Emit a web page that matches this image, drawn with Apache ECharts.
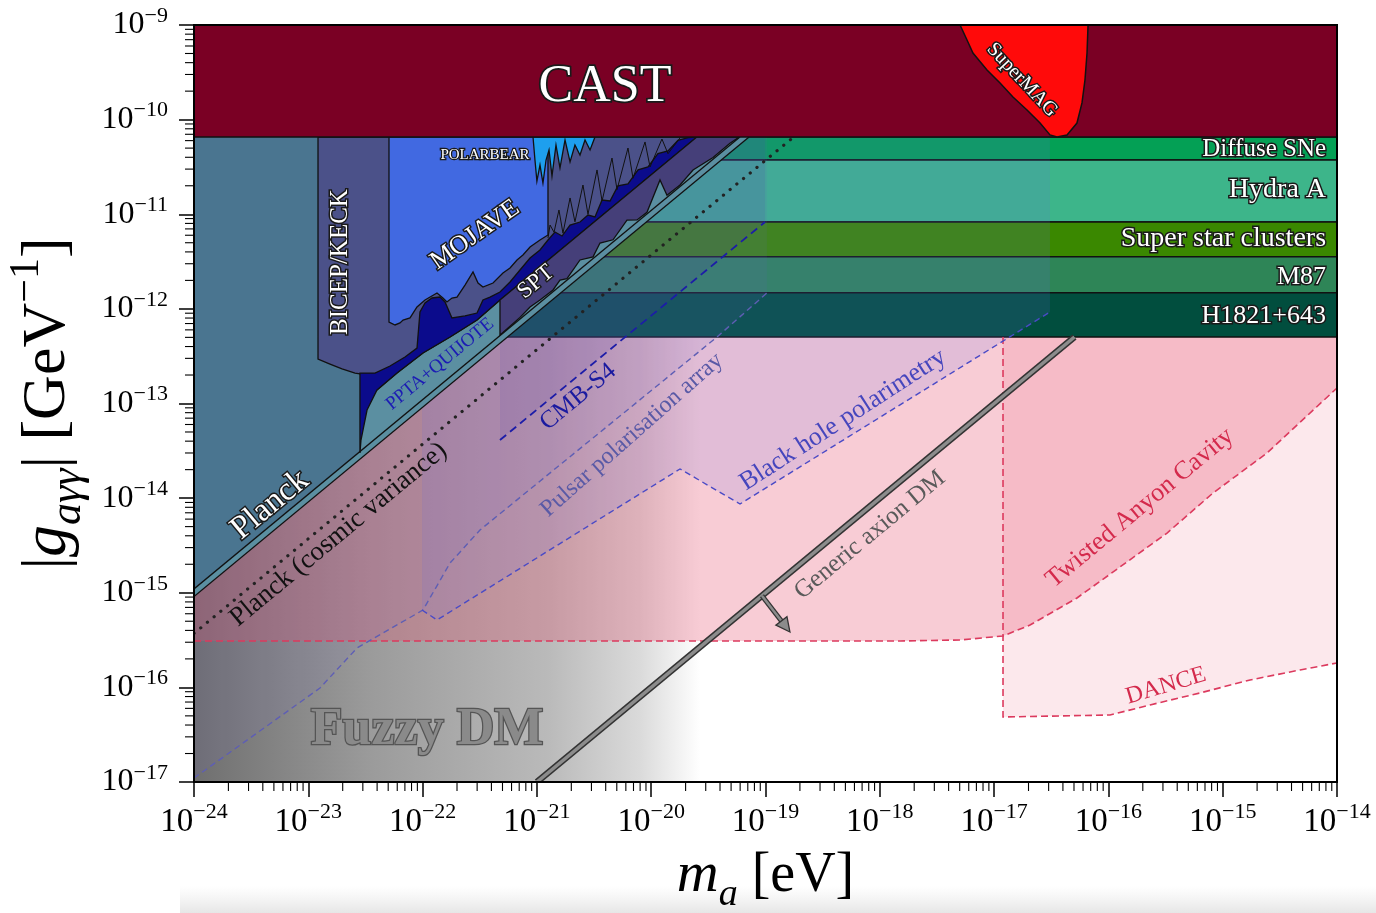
<!DOCTYPE html>
<html>
<head>
<meta charset="utf-8">
<script src="https://cdn.jsdelivr.net/npm/echarts@6.0.0/dist/echarts.min.js"></script>
<style>html,body{margin:0;padding:0;background:#fff;}#chart{width:1376px;height:913px;}</style>
</head>
<body>
<div id="chart"></div>
<script>
// All values are log10: x = log10(m_a / eV), y = log10(|g_agg| * GeV)
const xTickExponents = [-24,-23,-22,-21,-20,-19,-18,-17,-16,-15,-14];
const yTickExponents = [-17,-16,-15,-14,-13,-12,-11,-10,-9];

const castRegion = [[-24,-9],[-14,-9],[-14,-10.184],[-24,-10.184]];
const superMAGRegion = [[-17.298,-9],[-17.237,-9.159],[-17.185,-9.296],[-17.062,-9.476],[-16.948,-9.613],[-16.835,-9.761],[-16.712,-9.898],[-16.598,-10.036],[-16.511,-10.162],[-16.450,-10.184],[-16.362,-10.162],[-16.275,-10.036],[-16.231,-9.824],[-16.205,-9.581],[-16.187,-9.296],[-16.178,-9]];

const bandEdges = [-10.184,-10.427,-11.082,-11.449,-11.829,-12.297];
const bandNames = ['Diffuse SNe','Hydra A','Super star clusters','M87','H1821+643'];

const planckRegion = [[-24,-9],[-24,-14.96],[-22.548,-13.508],[-22.548,-9]];
const quijoteRegion = [[-24,-9],[-24,-15.04],[-17.96,-9]];
const planckEdge = [[-24,-14.96],[-19.224,-10.184]];
const quijoteEdge = [[-24,-15.04],[-19.144,-10.184]];
const planckCosmicVariance = [[-24,-15.43],[-18.754,-10.184]];

const bicepRegion = [[-22.915,-10.184],[-22.915,-12.530],[-22.810,-12.583],[-22.705,-12.635],[-22.591,-12.678],[-22.548,-12.688],[-22.399,-12.857],[-22.224,-12.678],[-21.997,-12.466],[-21.760,-12.297],[-21.524,-12.118],[-21.323,-11.906],[-19.601,-10.184]];

const pptaRegion = [[-22.548,-12.678],[-22.416,-12.678],[-22.285,-12.604],[-22.154,-12.509],[-22.049,-12.414],[-22.023,-12.033],[-21.979,-11.938],[-21.918,-11.885],[-21.848,-11.875],[-21.804,-11.927],[-21.743,-12.096],[-21.629,-12.075],[-21.524,-12.044],[-21.472,-11.906],[-21.410,-11.875],[-21.323,-11.822],[-21.235,-11.716],[-21.148,-11.589],[-21.060,-11.462],[-20.973,-11.378],[-20.903,-11.272],[-20.842,-11.188],[-20.780,-11.230],[-20.710,-11.114],[-20.623,-11.082],[-20.553,-11.008],[-20.492,-11.029],[-20.430,-10.85],[-20.360,-10.86],[-20.291,-10.70],[-20.203,-10.68],[-20.115,-10.53],[-20.028,-10.50],[-19.941,-10.36],[-19.853,-10.33],[-19.766,-10.22],[-19.678,-10.19],[-19.62,-10.184],
  [-19.601,-10.184],[-21.323,-11.906],[-21.524,-12.118],[-21.760,-12.297],[-21.997,-12.466],[-22.224,-12.678],[-22.399,-12.857],[-22.486,-13.069],[-22.521,-13.280],[-22.539,-13.386],[-22.548,-13.523]];

const mojaveRegion = [[-22.294,-10.184],[-22.294,-12.139],[-22.241,-12.170],[-22.198,-12.149],[-22.171,-12.118],[-22.110,-12.096],[-22.049,-11.980],[-21.979,-11.906],[-21.874,-11.832],[-21.822,-11.885],[-21.787,-11.927],[-21.743,-11.885],[-21.699,-11.875],[-21.629,-11.748],[-21.559,-11.610],[-21.515,-11.727],[-21.472,-11.769],[-21.384,-11.727],[-21.297,-11.621],[-21.235,-11.568],[-21.174,-11.483],[-21.122,-11.431],[-21.060,-11.346],[-20.973,-11.272],[-20.903,-11.219],[-20.903,-10.184]];

const polarbearRegion = [[-21.034,-10.184],[-21.017,-10.427],[-21.0,-10.649],[-20.973,-10.480],[-20.947,-10.670],[-20.920,-10.427],[-20.894,-10.321],[-20.868,-10.596],[-20.833,-10.268],[-20.798,-10.511],[-20.754,-10.215],[-20.710,-10.448],[-20.667,-10.268],[-20.623,-10.374],[-20.579,-10.215],[-20.535,-10.321],[-20.492,-10.184]];

const sptRegion = [[-21.323,-11.906],[-21.323,-12.276],[-21.297,-12.250],[-21.148,-12.09],[-21.060,-11.980],[-20.973,-11.906],[-20.859,-11.80],[-20.798,-11.695],[-20.737,-11.68],[-20.623,-11.483],[-20.509,-11.45],[-20.448,-11.304],[-20.334,-11.27],[-20.212,-11.061],[-20.124,-11.06],[-20.037,-10.98],[-19.923,-10.638],[-19.862,-10.80],[-19.748,-10.69],[-19.634,-10.532],[-19.459,-10.40],[-19.311,-10.25],[-19.23,-10.184],[-19.601,-10.184]];

const actJag = [[-20.903,-11.25],[-20.885,-11.114],[-20.850,-11.19],[-20.807,-10.955],[-20.772,-11.20],[-20.710,-10.828],[-20.667,-11.08],[-20.597,-10.691],[-20.553,-11.00],[-20.474,-10.532],[-20.430,-10.86],[-20.343,-10.406],[-20.299,-10.74],[-20.203,-10.300],[-20.159,-10.62],[-20.054,-10.236],[-20.010,-10.50],[-19.906,-10.205],[-19.853,-10.36],[-19.748,-10.194]];

const pulsarBoundary = [[-24,-16.958],[-22.898,-16.007],[-22.574,-15.584],[-21.996,-15.182],[-21.760,-14.686],[-21.498,-14.337],[-19.424,-12.297],[-18.987,-11.832]];
const blackHoleBoundary = [[-22.005,-15.182],[-21.874,-15.288],[-19.748,-13.692],[-19.223,-14.062],[-16.511,-12.033]];
const cmbS4Boundary = [[-21.323,-13.386],[-19.004,-11.082]];

const twistedAnyonBoundary = [[-24,-15.510],[-17.823,-15.510],[-17.298,-15.499],[-16.922,-15.457],[-16.686,-15.341],[-16.275,-15.055],[-15.899,-14.728],[-15.487,-14.369],[-15.085,-13.946],[-14.612,-13.523],[-14,-12.836]];
const danceBoundary = [[-16.922,-12.297],[-16.922,-16.313],[-15.986,-16.292],[-15.636,-16.186],[-15.199,-16.059],[-14.761,-15.922],[-14.324,-15.816],[-14,-15.742]];

const fuzzyDMRegion = [[-24,-17],[-19.57,-17],[-19.57,-9],[-24,-9]];
const genericAxionDM = [[-21,-17],[-16.297,-12.297]];
const genericArrow = [[-19.031,-15.031],[-18.786,-15.415]];

// ---- label annotations (anchor in data coords, direction in data coords) ----
const labels = [
  {t:'CAST', p:[-20.404,-9.655], size:52, fill:'#fff', outline:'#1a1a1a', ow:3.5},
  {t:'SuperMAG', p:[-16.756,-9.581], d:[1,-1.29], size:20, fill:'#fff', outline:'#1a1a1a'},
  {t:'Diffuse SNe', p:[-14.096,-10.310], size:25, align:'right', fill:'#fff', outline:'#1a1a1a'},
  {t:'Hydra A', p:[-14.096,-10.744], size:28, align:'right', fill:'#fff', outline:'#1a1a1a'},
  {t:'Super star clusters', p:[-14.096,-11.262], size:28, align:'right', fill:'#fff', outline:'#1a1a1a'},
  {t:'M87', p:[-14.096,-11.663], size:26, align:'right', fill:'#fff', outline:'#1a1a1a'},
  {t:'H1821+643', p:[-14.096,-12.075], size:26, align:'right', fill:'#fff', outline:'#1a1a1a'},
  {t:'POLARBEAR', p:[-21.454,-10.374], size:15, fill:'#fff', outline:'#1a1a1a', ow:2.5},
  {t:'BICEP/KECK', p:[-22.723,-11.505], d:[0,1], size:25, fill:'#fff', outline:'#1a1a1a'},
  {t:'MOJAVE', p:[-21.542,-11.219], d:[1,0.85], size:26, fill:'#fff', outline:'#1a1a1a'},
  {t:'SPT', p:[-21.008,-11.716], d:[1,1], size:23, fill:'#fff', outline:'#1a1a1a'},
  {t:'PPTA+QUIJOTE', p:[-21.848,-12.583], d:[1,1], size:19, fill:'#1c1cb4'},
  {t:'Planck', p:[-23.335,-14.073], d:[1,1], size:33, fill:'#fff', outline:'#1a1a1a'},
  {t:'Planck (cosmic variance)', p:[-22.735,-14.385], d:[1,1], size:27, fill:'#111'},
  {t:'CMB-S4', p:[-20.640,-12.931], d:[1,1], size:25, fill:'#1a1aa0'},
  {t:'Pulsar polarisation array', p:[-20.168,-13.333], d:[1,1.07], size:24, fill:'#5a5aa6'},
  {t:'Black hole polarimetry', p:[-18.322,-13.174], d:[1,0.78], size:26, fill:'#4646bd'},
  {t:'Generic axion DM', p:[-18.086,-14.390], d:[1,1], size:25, fill:'#5a5a5a'},
  {t:'Twisted Anyon Cavity', p:[-15.724,-14.104], d:[1,1], size:26, fill:'#d42a4c'},
  {t:'DANCE', p:[-15.496,-15.985], d:[1,0.36], size:24, fill:'#d42a4c'},
  {t:'Fuzzy DM', p:[-21.961,-16.461], size:52, bold:true, fill:'#8a8a8a', outline:'#555', ow:2.5}
];

const FONT = '"Liberation Serif", "DejaVu Serif", serif';
const series = [];
let zc = 2;
function poly(pts, style) {
  const z = zc++;
  series.push({type:'custom', coordinateSystem:'cartesian2d', silent:true, clip:true, z:z,
    data:[pts[0]],
    renderItem:(params, api)=>({type:'polygon', shape:{points: pts.map(q=>api.coord(q))}, style: style})});
}
function pline(pts, style) {
  const z = zc++;
  series.push({type:'custom', coordinateSystem:'cartesian2d', silent:true, clip:true, z:z,
    data:[pts[0]],
    renderItem:(params, api)=>({type:'polyline', shape:{points: pts.map(q=>api.coord(q))}, style: Object.assign({fill:null}, style)})});
}
const BLK = {stroke:'#111', lineWidth:1.3};

poly(fuzzyDMRegion, {fill: new echarts.graphic.LinearGradient(0,0,1,0,[
  {offset:0,color:'#6f6f6f'},{offset:0.35,color:'#9b9b9b'},{offset:0.7,color:'#bababa'},{offset:0.88,color:'#dadada'},{offset:1,color:'#ffffff'}])});
poly(twistedAnyonBoundary.concat([[-14,-10.184],[-24,-10.184]]), {fill:'rgba(232,80,110,0.29)'});
poly(danceBoundary.concat([[-14,-12.297]]), {fill:'rgba(232,80,110,0.13)'});
const bandColors = ['#04a055','#3db58a','#3a8800','#2e8557','#014e3e'];
for (let i = 0; i < bandNames.length; i++) {
  poly([[-24,bandEdges[i]],[-14,bandEdges[i]],[-14,bandEdges[i+1]],[-24,bandEdges[i+1]]], {fill:bandColors[i], stroke:'#111', lineWidth:1.5});
}
poly(pulsarBoundary.concat([[-18.987,-10.184],[-24,-10.184]]), {fill:'rgba(110,100,200,0.10)'});
poly(blackHoleBoundary.concat([[-16.511,-10.184],[-22.005,-10.184]]), {fill:'rgba(100,110,225,0.15)'});
poly(cmbS4Boundary.concat([[-19.004,-10.184],[-21.323,-10.184]]), {fill:'rgba(80,60,170,0.12)'});
poly(quijoteRegion, {fill:'#5b8fa1'});
poly(planckRegion, {fill:'#4a7590'});
poly(bicepRegion, Object.assign({fill:'#4b5189'}, BLK));
poly(pptaRegion, Object.assign({fill:'#0b0b8c'}, BLK));
poly(mojaveRegion, Object.assign({fill:'#4169e1'}, BLK));
poly(polarbearRegion, Object.assign({fill:'#1e9fee'}, BLK));
poly(sptRegion, Object.assign({fill:'#453f79'}, BLK));
pline(actJag, {stroke:'#111', lineWidth:1});
pline(planckEdge, {stroke:'#111', lineWidth:1.3});
pline(quijoteEdge, {stroke:'#111', lineWidth:1.3});
poly(castRegion, {fill:'#7a0024', stroke:'#111', lineWidth:1.5});
poly(superMAGRegion, {fill:'#ff0a0a', stroke:'#111', lineWidth:1.5});
pline(planckCosmicVariance, {stroke:'#222', lineWidth:3.2, lineDash:[0.1,8.6], lineCap:'round'});
pline(twistedAnyonBoundary, {stroke:'#dc3a5e', lineWidth:1.6, lineDash:[7,4]});
pline(danceBoundary, {stroke:'#dc3a5e', lineWidth:1.6, lineDash:[7,4]});
pline(pulsarBoundary, {stroke:'#5e5eb4', lineWidth:1.4, lineDash:[6,4]});
pline(blackHoleBoundary, {stroke:'#4a4ac6', lineWidth:1.4, lineDash:[6,4]});
pline(cmbS4Boundary, {stroke:'#1c1ca8', lineWidth:1.8, lineDash:[8,5]});
pline(genericAxionDM, {stroke:'#333', lineWidth:6.5});
pline(genericAxionDM, {stroke:'#8c8c8c', lineWidth:3.5});
// arrow
series.push({type:'custom', coordinateSystem:'cartesian2d', silent:true, clip:false, z:zc++,
  data:[genericArrow[0]],
  renderItem:(params, api)=>{
    const a = api.coord(genericArrow[0]), b = api.coord(genericArrow[1]);
    const dx = b[0]-a[0], dy = b[1]-a[1], L = Math.hypot(dx,dy), ux = dx/L, uy = dy/L;
    const hl = 14, hw = 7;
    const base = [b[0]-ux*hl, b[1]-uy*hl];
    return {type:'group', children:[
      {type:'line', shape:{x1:a[0],y1:a[1],x2:base[0],y2:base[1]}, style:{stroke:'#333', lineWidth:5}},
      {type:'line', shape:{x1:a[0],y1:a[1],x2:base[0]+ux,y2:base[1]+uy}, style:{stroke:'#8c8c8c', lineWidth:2.5}},
      {type:'polygon', shape:{points:[b,[base[0]-uy*hw, base[1]+ux*hw],[base[0]+uy*hw, base[1]-ux*hw]]}, style:{fill:'#8c8c8c', stroke:'#333', lineWidth:1.3}}
    ]};
  }});
// labels
series.push({type:'custom', coordinateSystem:'cartesian2d', silent:true, clip:false, z:zc++,
  data: labels.map(l=>l.p),
  renderItem:(params, api)=>{
    const l = labels[params.dataIndex];
    const p = api.coord(l.p);
    let rot = 0;
    if (l.d) { const q = api.coord([l.p[0]+l.d[0]*0.1, l.p[1]+l.d[1]*0.1]); rot = Math.atan2(p[1]-q[1], q[0]-p[0]); }
    const base = {text:l.t, fontSize:l.size, fontFamily:FONT, fontWeight:l.bold?'bold':'normal', align:l.align||'center', verticalAlign:'middle', x:0, y:0};
    const ch = [];
    if (l.outline) ch.push({type:'text', style:Object.assign({}, base, {fill:l.outline, stroke:l.outline, lineWidth:l.ow||3, lineJoin:'round'})});
    ch.push({type:'text', style:Object.assign({}, base, {fill:l.fill})});
    return {type:'group', x:p[0], y:p[1], rotation:rot, children:ch};
  }});
// minor ticks
const minorX = [], minorY = [];
xTickExponents.slice(0,-1).forEach(n=>{for(let k=2;k<10;k++) minorX.push([n+Math.log10(k), -17]);});
yTickExponents.slice(0,-1).forEach(n=>{for(let k=2;k<10;k++) minorY.push([-24, n+Math.log10(k)]);});
series.push({type:'custom', coordinateSystem:'cartesian2d', silent:true, clip:false, z:300, data:minorX,
  renderItem:(params, api)=>{const p = api.coord([api.value(0), api.value(1)]); return {type:'line', shape:{x1:p[0],y1:p[1]+1,x2:p[0],y2:p[1]+9}, style:{stroke:'#000', lineWidth:1.1}};}});
series.push({type:'custom', coordinateSystem:'cartesian2d', silent:true, clip:false, z:300, data:minorY,
  renderItem:(params, api)=>{const p = api.coord([api.value(0), api.value(1)]); return {type:'line', shape:{x1:p[0]-1,y1:p[1],x2:p[0]-9,y2:p[1]}, style:{stroke:'#000', lineWidth:1.1}};}});

const supFmt = v => '{b|10}{s|\u2212' + Math.abs(Math.round(v)) + '}';
const chart = echarts.init(document.getElementById('chart'), null, {renderer:'canvas'});
chart.setOption({
  animation:false,
  backgroundColor:'#fff',
  graphic:[{type:'rect', silent:true, z:-1, shape:{x:180,y:886,width:1196,height:27},
    style:{fill:new echarts.graphic.LinearGradient(0,0,0,1,[{offset:0,color:'rgba(235,235,235,0)'},{offset:1,color:'rgba(230,230,230,1)'}])}}],
  grid:{left:194, right:39, top:25, bottom:131, containLabel:false, outerBoundsMode:'none', show:true, z:250, backgroundColor:'transparent', borderColor:'#000', borderWidth:2},
  xAxis:{type:'value', min:-24, max:-14, interval:1, z:260,
    axisLine:{show:true, onZero:false, lineStyle:{color:'#000', width:2}},
    axisTick:{show:true, inside:false, length:15, lineStyle:{color:'#000', width:1.5}},
    splitLine:{show:false},
    axisLabel:{margin:19, showMinLabel:true, showMaxLabel:true, formatter:supFmt,
      rich:{b:{fontSize:33, lineHeight:42, fontFamily:FONT, color:'#000'}, s:{fontSize:22, lineHeight:18, verticalAlign:'top', fontFamily:FONT, color:'#000'}}},
    name:'{i|m}{s|a}{n| [eV]}', nameLocation:'middle', nameGap:56,
    nameTextStyle:{rich:{i:{fontSize:58, fontStyle:'italic', lineHeight:76, fontFamily:FONT, color:'#000'}, s:{fontSize:38, fontStyle:'italic', lineHeight:50, verticalAlign:'bottom', fontFamily:FONT, color:'#000'}, n:{fontSize:56, lineHeight:76, fontFamily:FONT, color:'#000'}}}
  },
  yAxis:{type:'value', min:-17, max:-9, interval:1, z:260,
    axisLine:{show:true, onZero:false, lineStyle:{color:'#000', width:2}},
    axisTick:{show:true, inside:false, length:15, lineStyle:{color:'#000', width:1.5}},
    splitLine:{show:false},
    axisLabel:{margin:26, showMinLabel:true, showMaxLabel:true, formatter:supFmt,
      rich:{b:{fontSize:32, lineHeight:40, fontFamily:FONT, color:'#000'}, s:{fontSize:22, lineHeight:18, verticalAlign:'top', fontFamily:FONT, color:'#000'}}},
    name:'{n||}{i|g}{s|a\u03b3\u03b3}{n|| [GeV}{p|\u22121}{n|]}', nameLocation:'middle', nameRotate:90, nameGap:104,
    nameTextStyle:{rich:{n:{fontSize:62, lineHeight:84, fontFamily:FONT, color:'#000'}, i:{fontSize:64, fontStyle:'italic', lineHeight:84, fontFamily:FONT, color:'#000'}, s:{fontSize:44, fontStyle:'italic', lineHeight:56, verticalAlign:'bottom', fontFamily:FONT, color:'#000'}, p:{fontSize:42, lineHeight:46, verticalAlign:'top', fontFamily:FONT, color:'#000'}}}
  },
  series: series
});
</script>
</body>
</html>
